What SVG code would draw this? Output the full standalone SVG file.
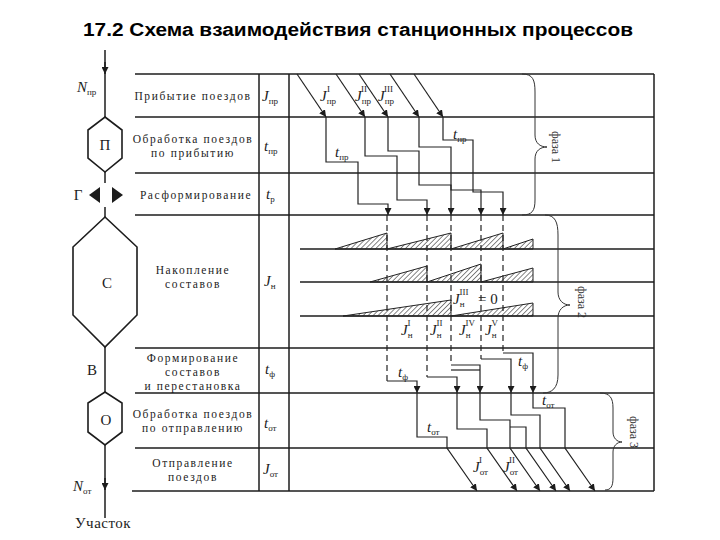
<svg xmlns="http://www.w3.org/2000/svg" width="720" height="540" viewBox="0 0 720 540">
<style>
.ln{stroke:#1c1c1c;stroke-width:1.5;fill:none}
.tr{stroke:#222;stroke-width:1.2;fill:none}
.ds{stroke:#222;stroke-width:1.2;stroke-dasharray:6 4;fill:none}
.br{stroke:#333;stroke-width:1;fill:none}
.hx{stroke:#1c1c1c;stroke-width:1.6;fill:#fff}
.lbl{font-family:"Liberation Serif",serif;font-size:11.5px;fill:#1c1c1c;text-anchor:middle;letter-spacing:1.6px}
.sym{font-family:"Liberation Serif",serif;font-style:italic;font-size:15px;fill:#1c1c1c}
.sub{font-size:9px;font-style:normal}
.let{font-family:"Liberation Serif",serif;font-size:15px;fill:#1c1c1c;text-anchor:middle}
.ph{font-family:"Liberation Serif",serif;font-size:12px;fill:#333;text-anchor:middle}
.title{font-family:"Liberation Sans",Arial,sans-serif;font-weight:bold;font-size:18px;fill:#000}
.wedge{fill:url(#hatch);stroke:#222;stroke-width:1}
</style>
<defs>
<marker id="arr" viewBox="0 0 10 10" refX="10" refY="5" markerWidth="7" markerHeight="7" orient="auto" markerUnits="userSpaceOnUse">
<path d="M0,0 L10,5 L0,10 z" fill="#1c1c1c"/>
</marker>
<pattern id="hatch" patternUnits="userSpaceOnUse" width="3.5" height="3.5" patternTransform="rotate(45)">
<line x1="0" y1="0" x2="0" y2="3.5" stroke="#222" stroke-width="1.1"/>
</pattern>
</defs>
<rect width="720" height="540" fill="#fff"/>
<text class="title" x="83" y="36" textLength="550" lengthAdjust="spacingAndGlyphs">17.2  Схема взаимодействия станционных процессов</text>

<g id="grid">
<line class="ln" x1="135" y1="74" x2="654" y2="74"/>
<line class="ln" x1="135" y1="117" x2="654" y2="117"/>
<line class="ln" x1="135" y1="173" x2="654" y2="173"/>
<line class="ln" x1="135" y1="215" x2="654" y2="215"/>
<line class="ln" x1="300" y1="249" x2="654" y2="249"/>
<line class="ln" x1="300" y1="282" x2="654" y2="282"/>
<line class="ln" x1="300" y1="316" x2="654" y2="316"/>
<line class="ln" x1="135" y1="348" x2="654" y2="348"/>
<line class="ln" x1="135" y1="393" x2="654" y2="393"/>
<line class="ln" x1="135" y1="448" x2="654" y2="448"/>
<line class="ln" x1="132" y1="491" x2="654" y2="491"/>
<line class="ln" x1="259" y1="74" x2="259" y2="491"/>
<line class="ln" x1="289" y1="74" x2="289" y2="491"/>
<line class="ln" x1="654" y1="74" x2="654" y2="491"/>
</g>

<g id="row-arrival"><text class="lbl" x="193" y="100">Прибытие поездов</text><text class="sym" x="262" y="101">J<tspan class="sub" dy="3">пр</tspan></text></g>
<g id="row-proc-arr"><text class="lbl" x="193" y="143">Обработка поездов</text><text class="lbl" x="193" y="157">по прибытию</text><text class="sym" x="264" y="151">t<tspan class="sub" dy="3">пр</tspan></text></g>
<g id="row-breakup"><text class="lbl" x="196" y="199">Расформирование</text><text class="sym" x="266" y="199">t<tspan class="sub" dy="3">р</tspan></text></g>
<g id="row-accum"><text class="lbl" x="193" y="274">Накопление</text><text class="lbl" x="193" y="288">составов</text><text class="sym" x="264" y="286">J<tspan class="sub" dy="3">н</tspan></text></g>
<g id="row-form"><text class="lbl" x="193" y="362">Формирование</text><text class="lbl" x="193" y="376">составов</text><text class="lbl" x="193" y="390">и перестановка</text><text class="sym" x="265" y="374">t<tspan class="sub" dy="3">ф</tspan></text></g>
<g id="row-proc-dep"><text class="lbl" x="193" y="418">Обработка поездов</text><text class="lbl" x="193" y="432">по отправлению</text><text class="sym" x="264" y="428">t<tspan class="sub" dy="3">от</tspan></text></g>
<g id="row-depart"><text class="lbl" x="193" y="467">Отправление</text><text class="lbl" x="193" y="481">поездов</text><text class="sym" x="263" y="474">J<tspan class="sub" dy="3">от</tspan></text></g>

<g id="flow-line">
<line class="ln" x1="105" y1="50" x2="105" y2="117"/>
<path d="M105,62 L105,74" class="ln" marker-end="url(#arr)"/>
<line class="ln" x1="105" y1="172" x2="105" y2="183"/>
<line class="ln" x1="105" y1="207" x2="105" y2="217"/>
<line class="ln" x1="105" y1="347" x2="105" y2="392"/>
<line class="ln" x1="105" y1="445" x2="105" y2="518"/>
<path d="M105,478 L105,490" class="ln" marker-end="url(#arr)"/>
<text class="sym" x="77" y="92">N<tspan class="sub" dy="3">пр</tspan></text>
<text class="sym" x="73" y="491">N<tspan class="sub" dy="3">от</tspan></text>
<text x="75" y="528" style="font-family:'Liberation Serif',serif;font-size:15px;fill:#1c1c1c;letter-spacing:0.5px">Участок</text>
</g>
<g id="node-P"><polygon class="hx" points="105,117 122,130 122,158 105,172 88,158 88,130"/><text class="let" x="105" y="150">П</text></g>
<g id="node-G"><text class="let" x="78" y="200">Г</text><polygon points="89,195 100,187 100,203" fill="#1c1c1c"/><polygon points="123,195 112,187 112,203" fill="#1c1c1c"/></g>
<g id="node-S"><polygon class="hx" points="105,217 137,247 137,315 105,347 73,315 73,247"/><text class="let" x="107" y="288">С</text></g>
<g id="node-V"><text class="let" x="92" y="375">В</text></g>
<g id="node-O"><polygon class="hx" points="105,392 122,403 122,432 105,445 88,432 88,403"/><text class="let" x="106" y="425">О</text></g>

<g id="wedges">
<polygon class="wedge" points="335,249 387,249 387,233"/>
<polygon class="wedge" points="387,249 451,249 451,233"/>
<polygon class="wedge" points="451,249 503,249 503,233"/>
<polygon class="wedge" points="503,249 533,249 533,239"/>
<polygon class="wedge" points="370,282 427,282 427,266"/>
<polygon class="wedge" points="427,282 481,282 481,264"/>
<polygon class="wedge" points="481,282 533,282 533,268"/>
<polygon class="wedge" points="343,316 451,316 451,300"/>
<polygon class="wedge" points="451,316 533,316 533,303"/>
</g>

<g id="connectors">
<line class="tr" x1="297" y1="74" x2="326" y2="117" marker-end="url(#arr)"/>
<line class="tr" x1="336" y1="74" x2="365" y2="117" marker-end="url(#arr)"/>
<line class="tr" x1="359" y1="74" x2="388" y2="117" marker-end="url(#arr)"/>
<line class="tr" x1="390" y1="74" x2="419" y2="117" marker-end="url(#arr)"/>
<line class="tr" x1="414" y1="74" x2="443" y2="117" marker-end="url(#arr)"/>
<polyline class="tr" points="326,117 326,162 358,162 358,204 388,204 388,215" marker-end="url(#arr)"/>
<polyline class="tr" points="365,117 365,156 397,156 397,200 427,200 427,215" marker-end="url(#arr)"/>
<polyline class="tr" points="388,117 388,151 419,151 419,185 451,185 451,215" marker-end="url(#arr)"/>
<polyline class="tr" points="419,117 419,147 451,147 451,190 481,190 481,215" marker-end="url(#arr)"/>
<polyline class="tr" points="443,117 443,140 473,140 473,192 503,192 503,215" marker-end="url(#arr)"/>
<line class="ds" x1="387" y1="215" x2="387" y2="381"/>
<line class="ds" x1="427" y1="215" x2="427" y2="377"/>
<line class="ds" x1="451" y1="215" x2="451" y2="365"/>
<line class="ds" x1="481" y1="215" x2="481" y2="359"/>
<line class="ds" x1="503" y1="215" x2="503" y2="353"/>
<polyline class="tr" points="387,381 417,381 417,393" marker-end="url(#arr)"/>
<polyline class="tr" points="427,377 457,377 457,393" marker-end="url(#arr)"/>
<polyline class="tr" points="451,365 480,365 480,393" marker-end="url(#arr)"/>
<line class="tr" x1="451" y1="370" x2="480" y2="370"/>
<polyline class="tr" points="481,359 511,359 511,393" marker-end="url(#arr)"/>
<polyline class="tr" points="503,353 533,353 533,393" marker-end="url(#arr)"/>
<polyline class="tr" points="417,393 417,437 447,437 447,448 477,491" marker-end="url(#arr)"/>
<polyline class="tr" points="457,393 457,429 487,429 487,448 517,491" marker-end="url(#arr)"/>
<polyline class="tr" points="480,393 480,420 510,420 510,448 540,491" marker-end="url(#arr)"/>
<polyline class="tr" points="510,427 526,427 526,448 556,491" marker-end="url(#arr)"/>
<polyline class="tr" points="511,393 511,415 540,415 540,448 570,491" marker-end="url(#arr)"/>
<polyline class="tr" points="533,393 533,408 565,408 565,448 595,491" marker-end="url(#arr)"/>
</g>

<g id="chart-labels">
<text class="sym" x="320" y="101">J<tspan class="sub" dy="3">пр</tspan><tspan class="sub" dx="-9" dy="-12">I</tspan></text>
<text class="sym" x="355" y="101">J<tspan class="sub" dy="3">пр</tspan><tspan class="sub" dx="-10" dy="-12">II</tspan></text>
<text class="sym" x="378" y="101">J<tspan class="sub" dy="3">пр</tspan><tspan class="sub" dx="-10" dy="-12">III</tspan></text>
<text class="sym" x="335" y="157">t<tspan class="sub" dy="3">пр</tspan></text>
<text class="sym" x="453" y="139">t<tspan class="sub" dy="3">пр</tspan></text>
<text class="sym" x="453" y="304">J<tspan class="sub" dy="3">н</tspan><tspan class="sub" dx="-5" dy="-12">III</tspan></text>
<text x="478" y="304" style="font-family:'Liberation Serif',serif;font-size:15px;fill:#1c1c1c">= 0</text>
<text class="sym" x="401" y="335">J<tspan class="sub" dy="3">н</tspan><tspan class="sub" dx="-5" dy="-12">I</tspan></text>
<text class="sym" x="430" y="335">J<tspan class="sub" dy="3">н</tspan><tspan class="sub" dx="-5" dy="-12">II</tspan></text>
<text class="sym" x="459" y="335">J<tspan class="sub" dy="3">н</tspan><tspan class="sub" dx="-5" dy="-12">IV</tspan></text>
<text class="sym" x="485" y="335">J<tspan class="sub" dy="3">н</tspan><tspan class="sub" dx="-5" dy="-12">V</tspan></text>
<text class="sym" x="398" y="377">t<tspan class="sub" dy="3">ф</tspan></text>
<text class="sym" x="518" y="366">t<tspan class="sub" dy="3">ф</tspan></text>
<text class="sym" x="427" y="432">t<tspan class="sub" dy="3">от</tspan></text>
<text class="sym" x="542" y="405">t<tspan class="sub" dy="3">от</tspan></text>
<text class="sym" x="473" y="472">J<tspan class="sub" dy="3">от</tspan><tspan class="sub" dx="-9" dy="-12">I</tspan></text>
<text class="sym" x="503" y="472">J<tspan class="sub" dy="3">от</tspan><tspan class="sub" dx="-9" dy="-12">II</tspan></text>
</g>

<g id="phases">
<path class="br" d="M522,74 C533,74 535,80 535,92 L535,135 C535,143 540,147 547,147 C540,147 535,151 535,159 L535,200 C535,211 532,215 522,215"/>
<text class="ph" transform="translate(552,147) rotate(90)">фаза 1</text>
<path class="br" d="M545,215 C555,215 558,222 558,235 L558,292 C558,300 563,305 570,305 C563,305 558,310 558,318 L558,375 C558,388 552,393 543,393"/>
<text class="ph" transform="translate(578,302) rotate(90)">фаза 2</text>
<path class="br" d="M600,393 C610,393 613,398 613,408 L613,432 C613,438 617,442 622,442 C617,442 613,446 613,452 L613,478 C613,486 611,490 605,490"/>
<text class="ph" transform="translate(630,432) rotate(90)">фаза 3</text>
</g>
</svg>
